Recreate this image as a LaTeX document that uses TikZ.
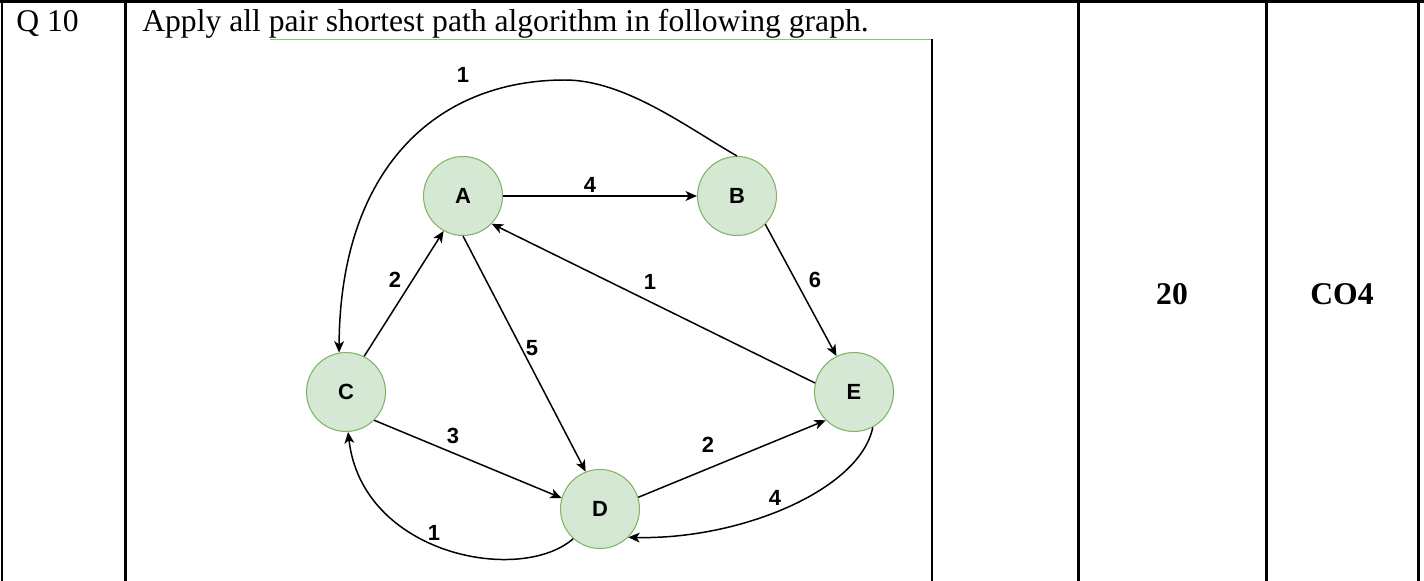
\documentclass[tikz,border=0pt]{standalone}
\usepackage{fontspec}
\setmainfont{Liberation Serif}
\setsansfont{Liberation Sans}
\usetikzlibrary{arrows.meta}
\definecolor{vertexfill}{HTML}{D5E8D4}
\definecolor{vertexline}{HTML}{82B366}
\definecolor{markgreen}{HTML}{8DC46A}

\begin{document}
\begin{tikzpicture}[
  x=0.02cm, y=0.02cm,
  vertex/.style={circle, draw=vertexline, fill=vertexfill, line width=0.6pt,
    minimum size=1.58cm, inner sep=0pt, font=\sffamily\bfseries\fontsize{12.5}{14}\selectfont},
  arr/.style={-{Stealth[length=6.5pt,width=5.6pt,inset=1.8pt]}, line width=0.85pt},
  wlbl/.style={font=\sffamily\bfseries\fontsize{12.5}{14}\selectfont, inner sep=1pt},
  tablerule/.style={line width=1.7pt},
  celltext/.style={font=\fontsize{18}{21}\selectfont, inner sep=0pt}
]
  \useasboundingbox (0,0) rectangle (1424,-581);

  % table lines
  \draw[tablerule] (0,-1.3) -- (1424,-1.3);
  \foreach \xc in {2,125.5,1078.5,1266,1418.5}
    \draw[tablerule] (\xc,0) -- (\xc,-581);

  % cell texts
  \node[celltext, anchor=base west] (qno) at (16,-32) {Q 10};
  \node[celltext, anchor=base west] (qtext) at (142,-32) {Apply all pair shortest path algorithm in following graph.};
  \node[celltext, font=\bfseries\fontsize{18}{21}\selectfont] (marks) at (1172,-294) {20};
  \node[celltext, font=\bfseries\fontsize{18}{21}\selectfont] (co) at (1342,-294) {CO4};

  % picture frame
  \draw[markgreen, line width=0.9pt] (270,-39.3) -- (932.5,-39.3);
  \draw[line width=0.6pt] (932,-39.3) -- (932,-581);

  % vertices
  \node[vertex] (A) at (463,-196) {A};
  \node[vertex] (B) at (737,-196) {B};
  \node[vertex] (C) at (346,-392) {C};
  \node[vertex] (D) at (600,-509) {D};
  \node[vertex] (E) at (854,-392) {E};

  % edges
  \draw[arr] (A) -- (B);
  \draw[arr] (B.-45) -- (E.116);
  \draw[arr] (E.167) -- (A.-44);
  \draw[arr] (A.south) -- (D.111);
  \draw[arr] (C.63) -- (A.241);
  \draw[arr] (C.-45) -- (D.164);
  \draw[arr] (D.17) -- (E.225);
  \draw[arr] (E.-62) .. controls (860,-490) and (740,-540) .. (D.-45);
  \draw[arr] (D.228) .. controls (520,-585) and (362,-555) .. (C.-87);
  \draw[arr] (B.north) .. controls (688,-128) and (625,-80) .. (565,-80)
    .. controls (435,-80) and (340,-170) .. (C.100);

  % weights
  \node[wlbl] (wBC) at (463,-75) {1};
  \node[wlbl] (wAB) at (590,-185) {4};
  \node[wlbl] (wCA) at (395,-280) {2};
  \node[wlbl] (wEA) at (650,-282) {1};
  \node[wlbl] (wBE) at (815,-280) {6};
  \node[wlbl] (wAD) at (532,-348) {5};
  \node[wlbl] (wCD) at (453,-436) {3};
  \node[wlbl] (wDE) at (708,-445) {2};
  \node[wlbl] (wED) at (775,-498) {4};
  \node[wlbl] (wDC) at (434,-533) {1};
\end{tikzpicture}
\end{document}
